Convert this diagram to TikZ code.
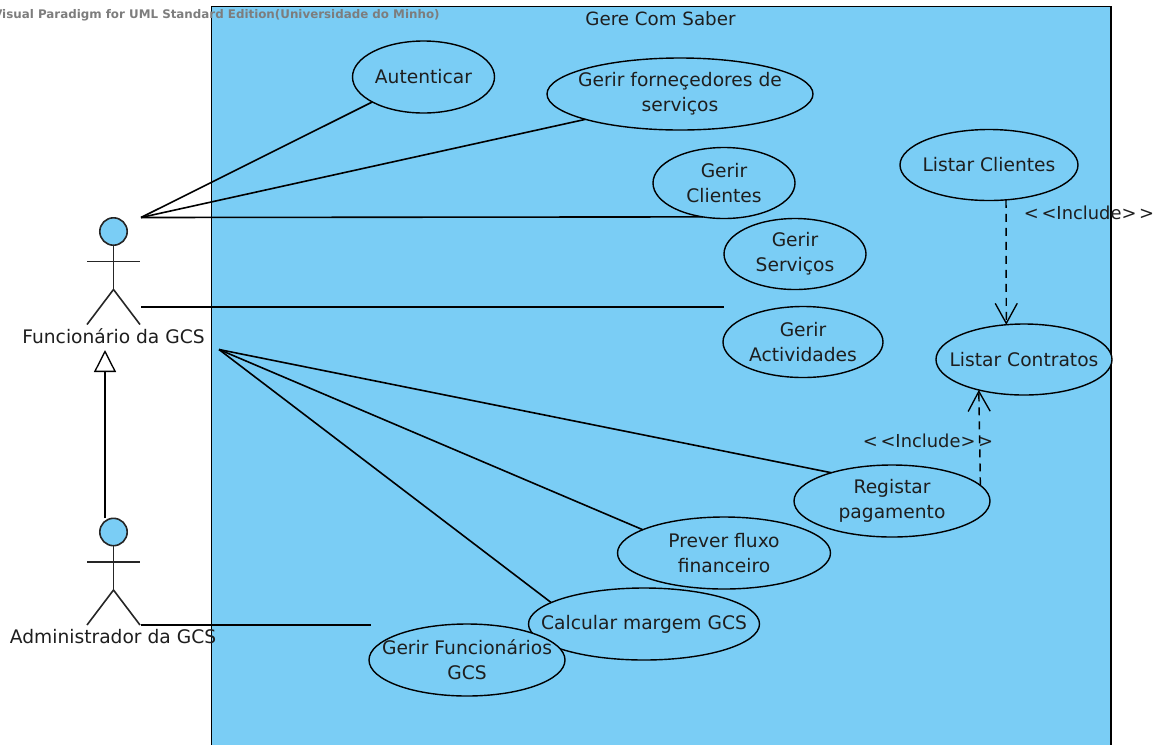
\documentclass[tikz,border=0pt]{standalone}
\usepackage{fontspec}
\setmainfont{DejaVu Sans}
\usetikzlibrary{shapes.geometric,arrows.meta}
\definecolor{ucblue}{RGB}{122,205,245}
\definecolor{wm}{RGB}{125,125,125}
\definecolor{ink}{RGB}{30,30,30}
\tikzset{
  x=0.75pt,y=-0.75pt,
  uc/.style 2 args={ellipse,draw=black,fill=ucblue,line width=1.05pt,inner sep=0pt,outer sep=0pt,
    minimum width=#1*0.75pt,minimum height=#2*0.75pt},
  uct/.style={inner sep=0pt,align=center,text=ink,font=\fontsize{14}{18.8}\selectfont},
  assoc/.style={draw=black,line width=1.2pt},
  inc/.style={draw=black,line width=1.1pt,dash pattern=on 6pt off 4.5pt,-{Straight Barb[length=15pt,width=16.5pt,line width=1.0pt]}},
  gen/.style={draw=black,line width=1.2pt,-{Triangle[open,length=16.5pt,width=16.5pt,fill=white,line width=1.0pt]}},
  stick/.style={draw=black!85,line width=1.2pt},
  lab/.style={inner sep=0pt,text=ink,font=\fontsize{14}{16}\selectfont},
  inclab/.style={inner sep=0pt,text=ink,font=\fontsize{13.4}{16}\selectfont}
}
\newcommand{\stickman}[2]{% x, y of head centre
  \draw[stick,fill=ucblue] (#1,#2) circle[radius=13.7];
  \draw[stick] (#1,#2+13.7) -- (#1,#2+58);
  \draw[stick] (#1-26.5,#2+30) -- (#1+26.5,#2+30);
  \draw[stick] (#1-26.5,#2+93) -- (#1,#2+58) -- (#1+26.5,#2+93);
}
\begin{document}
\begin{tikzpicture}
\useasboundingbox (0,0) rectangle (1153,744);
\begin{scope}
\clip (0,0) rectangle (1153,744);
\fill[ucblue] (211.5,6.5) rectangle (1111,760);
\draw[black,line width=1.2pt] (211.5,760) -- (211.5,6.5) -- (1111,6.5) -- (1111,760);
\node[inner sep=0pt,anchor=west,text=wm,font=\fontsize{8.9}{10}\selectfont\bfseries] (wmark) at (-7,15) {Visual Paradigm for UML Standard Edition(Universidade do Minho)};
\end{scope}
\node[lab,font=\fontsize{13.7}{16}\selectfont] (title) at (660.5,19) {Gere Com Saber};

\stickman{113.5}{231.5}
\stickman{113.5}{532}

\coordinate (fa) at (141,217.5);
\coordinate (fb) at (141,307);
\coordinate (fc) at (219,349.5);
\coordinate (fd) at (141,625);
\coordinate (fe) at (724,307);
\coordinate (ff) at (371,625);
\coordinate (gs) at (105,518);
\coordinate (gt) at (105,350);

\node[uc={142}{72},label={[uct]center:Autenticar}] (aut) at (423.5,77) {};
\node[uc={266}{72},label={[uct]center:{Gerir forneçedores de\\serviços}}] (forn) at (680,94) {};
\node[uc={142}{71},label={[uct]center:{Gerir\\Clientes}}] (cli) at (724,183) {};
\node[uc={142}{71},label={[uct]center:{Gerir\\Serviços}}] (srv) at (795,254) {};
\node[uc={160}{71},label={[uct]center:{Gerir\\Actividades}}] (act) at (803,342) {};
\node[uc={178}{71},label={[uct]center:Listar Clientes}] (lcli) at (989,165) {};
\node[uc={176}{71},label={[uct]center:Listar Contratos}] (lcon) at (1024,359.5) {};
\node[uc={196}{72},label={[uct]center:{Registar\\pagamento}}] (reg) at (892,501) {};
\node[uc={213}{72},label={[uct]center:{Prever fluxo\\financeiro}}] (prev) at (724,553) {};
\node[uc={231}{72},label={[uct]center:Calcular margem GCS}] (calc) at (644,624) {};
\node[uc={196}{72},label={[uct]center:{Gerir Funcionários\\GCS}}] (func) at (467,660) {};

\draw[assoc] (fa) -- (aut.206);
\draw[assoc] (fa) -- (forn.195.8);
\draw[assoc] (fa) -- (cli.238);
\draw[assoc] (fb) -- (fe);
\draw[assoc] (fc) -- (reg.155.6);
\draw[assoc] (fc) -- (prev.164.7);
\draw[assoc] (fc) -- (calc.167.7);
\draw[assoc] (fd) -- (ff);
\draw[gen] (gs) -- (gt);
\draw[inc] (lcli.296.3) -- (lcon.117.7);
\draw[inc] (reg.10.3) -- (lcon.214.9);

\node[inclab] (l1) at (1089,213) {<\kern2pt<Include>\kern2pt>};
\node[inclab] (l2) at (928,441) {<\kern2pt<Include>\kern2pt>};
\node[lab] (fn) at (113.5,336) {Funcionário da GCS};
\node[lab] (an) at (113,637) {Administrador da GCS};
\end{tikzpicture}
\end{document}
